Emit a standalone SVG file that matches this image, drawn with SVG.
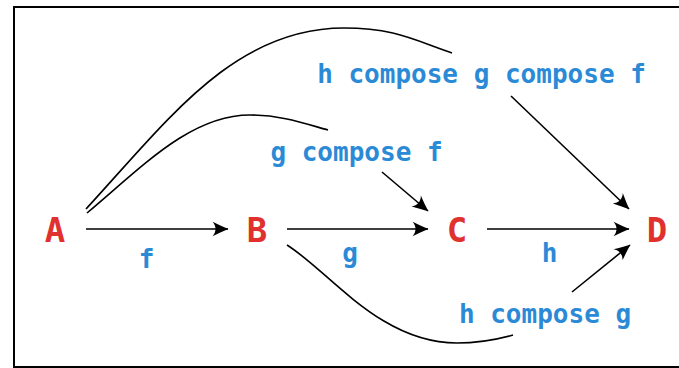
<svg xmlns="http://www.w3.org/2000/svg" width="679" height="368" viewBox="0 0 679 368">
  <style>
    .node { font-family: "DejaVu Sans Mono", "Liberation Mono", monospace; font-weight: bold; font-size: 34px; fill: #e0312f; text-anchor: middle; }
    .lbl { font-family: "DejaVu Sans Mono", "Liberation Mono", monospace; font-weight: bold; font-size: 26px; fill: #2b8ad6; text-anchor: middle; }
    .edge { fill: none; stroke: #000; stroke-width: 1.6; }
    .arr { marker-end: url(#ah); }
  </style>
  <defs>
    <marker id="ah" markerUnits="userSpaceOnUse" viewBox="-17 -9 18 18" refX="0" refY="0" markerWidth="18" markerHeight="18" orient="auto">
      <path d="M0.5,0 C-4,-1.8 -10,-4.5 -15.5,-7.2 C-11.5,-2.8 -11.5,2.8 -15.5,7.2 C-10,4.5 -4,1.8 0.5,0 Z" fill="#000"/>
    </marker>
  </defs>
  <rect x="0" y="0" width="679" height="368" fill="#fff"/>
  <rect x="14" y="7" width="700" height="360" fill="none" stroke="#000" stroke-width="2"/>

  <g id="connectors">
    <line class="edge arr" x1="86" y1="229" x2="228" y2="229"/>
    <line class="edge arr" x1="287" y1="229" x2="428" y2="229"/>
    <line class="edge arr" x1="487" y1="229" x2="629" y2="229"/>
    <path class="edge" d="M86,209 C168,120 234,28 344,28 C394,28 414,40 452,53"/>
    <line class="edge arr" x1="511" y1="96" x2="629" y2="209"/>
    <path class="edge" d="M87,213 C141,168 190,115 250,115 C280,115 303,123 328,130"/>
    <line class="edge arr" x1="382" y1="172" x2="428" y2="211"/>
    <path class="edge" d="M287,245 C330,272 380,343 457,343 C480,343 495,340 513,335"/>
    <line class="edge arr" x1="572" y1="292" x2="630" y2="245"/>
  </g>

  <g id="A"><text class="node" x="55" y="242">A</text></g>
  <g id="B"><text class="node" x="257" y="242">B</text></g>
  <g id="C"><text class="node" x="457" y="242">C</text></g>
  <g id="D"><text class="node" x="657" y="242">D</text></g>

  <g id="labels">
    <text class="lbl" x="146.5" y="268">f</text>
    <text class="lbl" x="350" y="262">g</text>
    <text class="lbl" x="549.5" y="262">h</text>
    <text class="lbl" x="481.5" y="83">h compose g compose f</text>
    <text class="lbl" x="356.5" y="161">g compose f</text>
    <text class="lbl" x="545" y="323">h compose g</text>
  </g>
</svg>
